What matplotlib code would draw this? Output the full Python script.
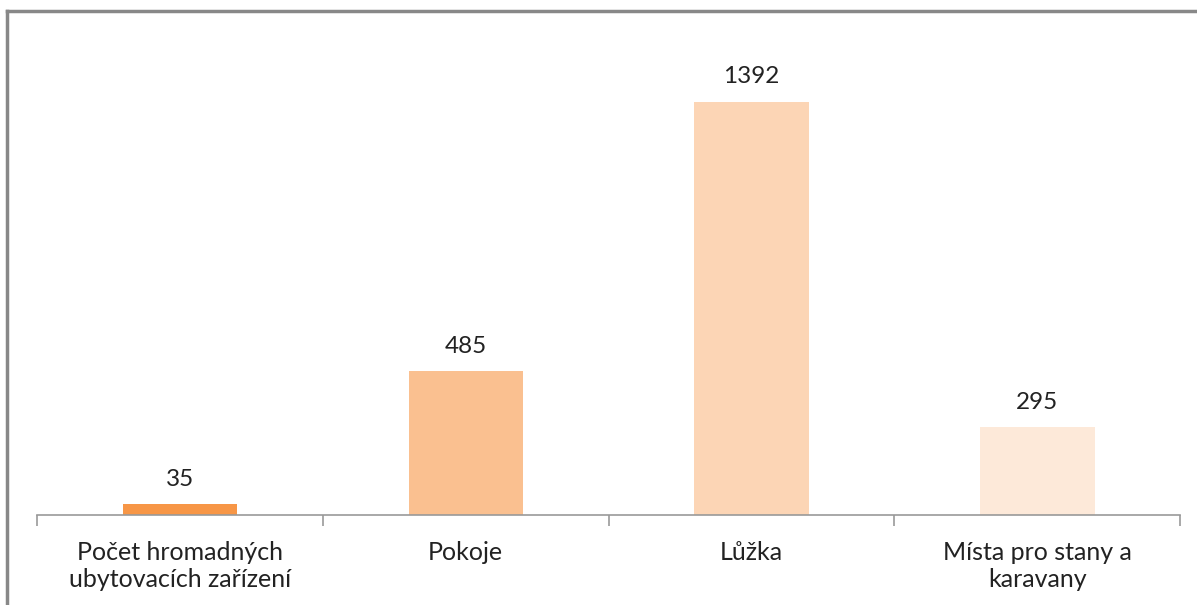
import matplotlib.pyplot as plt
from matplotlib.lines import Line2D

categories = ['Počet hromadných\nubytovacích zařízení', 'Pokoje', 'Lůžka',
              'Místa pro stany a\nkaravany']
values = [35, 485, 1392, 295]
colors = ['#F79646', '#FAC090', '#FCD5B5', '#FDE9D9']

plt.rcParams['font.family'] = ['Lato', 'DejaVu Sans']

fig = plt.figure(figsize=(11.97, 6.05), dpi=100)
ax = fig.add_axes([0.031, 0.149, 0.955, 0.785])

x = range(len(values))
bars = ax.bar(x, values, width=0.4, color=colors)
for b, v in zip(bars, values):
    ax.text(b.get_x() + b.get_width() / 2, v + 48, str(v),
            ha='center', va='bottom', fontsize=17.5, color='#222222')

ax.set_xlim(-0.5, len(values) - 0.5)
ax.set_ylim(0, 1600)
ax.set_yticks([])
ax.set_xticks(list(x))
ax.set_xticklabels(categories, fontsize=18, color='#222222', linespacing=1.2)
ax.tick_params(axis='x', which='major', length=0, pad=19)
ax.set_xticks([i - 0.5 for i in range(len(values) + 1)], minor=True)
ax.tick_params(axis='x', which='minor', length=8, color='#999999', width=1.2)

for s in ['top', 'right', 'left']:
    ax.spines[s].set_visible(False)
ax.spines['bottom'].set_color('#999999')
ax.spines['bottom'].set_linewidth(1.2)

# outer chart frame (only left and top visible in the crop)
fx = 7 / 1197
fy = 1 - 11 / 605
fig.add_artist(Line2D([fx, fx], [0, fy], transform=fig.transFigure, color='#888888', lw=2.5))
fig.add_artist(Line2D([fx, 1], [fy, fy], transform=fig.transFigure, color='#888888', lw=2.5))

plt.savefig('out.png', dpi=100)
